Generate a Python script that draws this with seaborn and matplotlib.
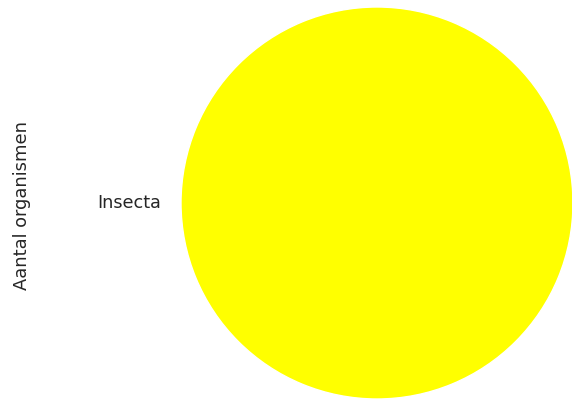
import matplotlib
matplotlib.use("Agg")
import matplotlib.pyplot as plt
import seaborn as sns

# data
klassen = ["Insecta"]
aantallen = [1]
kleuren = ["#ffff00"]

sns.set_style("white")

fig = plt.figure(figsize=(5.72, 4.0), dpi=100)
# axes placed so the circle sits like in the reference
ax = fig.add_axes([181 / 572, (400 - 203 - 196) / 400, 392 / 572, 392 / 400])

ax.pie(aantallen, labels=klassen, colors=kleuren,
       textprops={"fontsize": 12.7, "color": "#262626"})
ax.set_xlim(-1, 1)
ax.set_ylim(-1, 1)
ax.set_aspect("equal")

fig.text(22 / 572, 1 - 205 / 400, "Aantal organismen", rotation=90,
         ha="center", va="center", fontsize=12.9, color="#262626")

fig.savefig("out.png", dpi=100)
